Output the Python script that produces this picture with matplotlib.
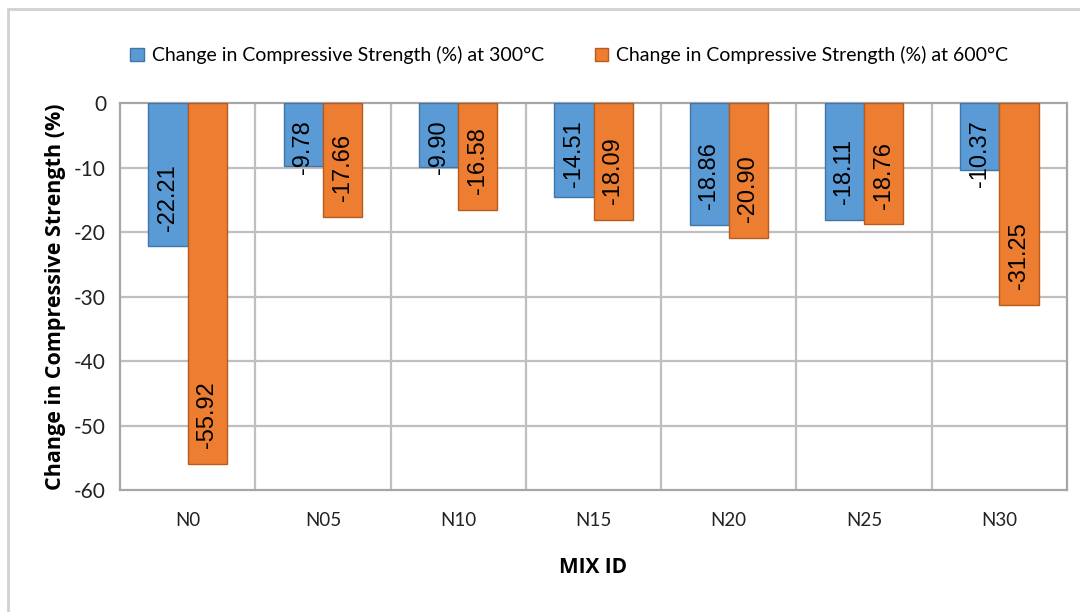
import numpy as np
import matplotlib.pyplot as plt
from matplotlib.patches import Rectangle

plt.rcParams['axes.unicode_minus'] = False

# Data
mix_ids = ['N0', 'N05', 'N10', 'N15', 'N20', 'N25', 'N30']
change_300 = [-22.21, -9.78, -9.90, -14.51, -18.86, -18.11, -10.37]
change_600 = [-55.92, -17.66, -16.58, -18.09, -20.90, -18.76, -31.25]
series_names = ['Change in Compressive Strength (%) at 300°C',
                'Change in Compressive Strength (%) at 600°C']

blue = '#5B9BD5'
blue_edge = '#3F75A8'
orange = '#ED7D31'
orange_edge = '#B85A1C'

fig = plt.figure(figsize=(10.8, 6.12), dpi=100)
ax = fig.add_axes([0.1111, 0.1993, 0.8769, 0.6324])

x = np.arange(len(mix_ids))
w = 0.29
b1 = ax.bar(x - w / 2, change_300, w, color=blue, edgecolor=blue_edge, linewidth=1.0,
            label=series_names[0], zorder=3)
b2 = ax.bar(x + w / 2, change_600, w, color=orange, edgecolor=orange_edge, linewidth=1.0,
            label=series_names[1], zorder=3)

ax.set_xlim(-0.5, len(mix_ids) - 0.5)
ax.set_ylim(-60, 0)
ax.set_yticks(np.arange(-60, 1, 10))
ax.set_xticks(x)
ax.set_xticklabels(mix_ids, fontsize=13.5, family='Lato')
for t in ax.get_yticklabels():
    t.set_fontsize(15)
    t.set_family('Lato')
ax.tick_params(axis='both', length=0, pad=10, colors='#222222')
ax.tick_params(axis='x', pad=16)

# gridlines: horizontal at every tick, vertical at category boundaries
for yv in np.arange(-50, 0, 10):
    ax.axhline(yv, color='#BFBFBF', linewidth=1.6, zorder=1)
for xv in np.arange(0.5, len(mix_ids) - 0.5, 1):
    ax.axvline(xv, color='#BFBFBF', linewidth=1.6, zorder=1)
for s in ax.spines.values():
    s.set_color('#A6A6A6')
    s.set_linewidth(1.6)

ax.set_ylabel('Change in Compressive Strength (%)', fontsize=15.5, fontweight='bold',
              family='Open Sans', labelpad=6)
ax.set_xlabel('MIX ID', fontsize=15, fontweight='bold', family='Open Sans', labelpad=20)

# value labels, rotated, near the bar end (Excel "inside end" style)
fig.canvas.draw()
renderer = fig.canvas.get_renderer()
inv = ax.transData.inverted()
for bars, vals in [(b1, change_300), (b2, change_600)]:
    for bar, v in zip(bars, vals):
        cx = bar.get_x() + bar.get_width() / 2
        t = ax.text(cx, v + 2.4, f'{v:.2f}', rotation=90, ha='center', va='bottom',
                    fontsize=17, family='Liberation Sans', color='black', zorder=4)
        ext = t.get_window_extent(renderer)
        top = inv.transform((0, ext.y1))[1]
        if top > -2.7:
            t.set_y(-2.7)
            t.set_va('top')

leg = fig.legend(handles=[b1, b2], loc='center', bbox_to_anchor=(0.527, 0.91), ncol=2,
                 frameon=False, handlelength=0.7, handleheight=0.7,
                 handletextpad=0.4, columnspacing=2.6,
                 prop={'family': 'Lato', 'size': 14})

# light chart-area border
fig.patches.append(Rectangle((0.007, -0.02), 1.5, 1.006, transform=fig.transFigure,
                             fill=False, edgecolor='#D0D0D0', linewidth=2))

fig.savefig('out.png', dpi=100)
